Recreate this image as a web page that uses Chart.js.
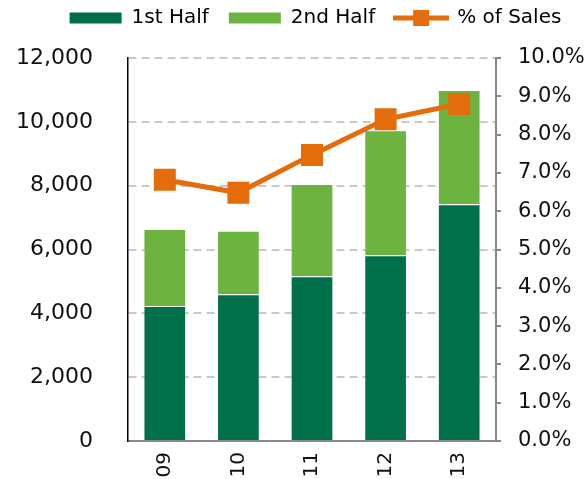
<!DOCTYPE html>
<html>
<head>
<meta charset="utf-8">
<script src="https://cdn.jsdelivr.net/npm/chart.js@4.4.1/dist/chart.umd.min.js"></script>
<style>
  body { margin: 0; background: #fff; }
  #wrap { width: 587px; height: 479px; }
</style>
</head>
<body>
<div id="wrap"><canvas id="salesChart"></canvas></div>
<script>
const years = ['09', '10', '11', '12', '13'];
const firstHalf = [4230, 4600, 5165, 5820, 7415];
const secondHalf = [2415, 1990, 2885, 3920, 3585];
const pctOfSales = [6.82, 6.48, 7.47, 8.40, 8.80];

const darkGreen = '#00704A';
const lightGreen = '#6DB33F';
const orange = '#E46C0A';
const font = 'DejaVu Sans';

// legend icon for the line series: a line with a square on it
const lineIcon = document.createElement('canvas');
lineIcon.width = 56;
lineIcon.height = 18;
(function () {
    const c = lineIcon.getContext('2d');
    c.strokeStyle = orange;
    c.lineWidth = 5;
    c.beginPath();
    c.moveTo(0, 9);
    c.lineTo(56, 9);
    c.stroke();
    c.fillStyle = orange;
    c.fillRect(20, 1, 16, 16);
})();

// nudge the legend to where it sits in the original
const legendShift = {
    id: 'legendShift',
    afterLayout: function (chart) {
        const lg = chart.legend;
        if (!lg) return;
        lg.left += 22;
        lg.right += 22;
        lg.top -= 20;
        lg.bottom -= 20;
    }
};

const ctx = document.getElementById('salesChart').getContext('2d');
const salesChart = new Chart(ctx, {
    type: 'bar',
    data: {
        labels: years,
        datasets: [{
            label: '1st Half',
            data: firstHalf,
            backgroundColor: darkGreen,
            borderColor: 'rgba(255,255,255,0.35)',
            borderWidth: 1,
            yAxisID: 'y',
            order: 2
        }, {
            label: '2nd Half',
            data: secondHalf,
            backgroundColor: lightGreen,
            borderColor: 'rgba(255,255,255,0.35)',
            borderWidth: 1,
            yAxisID: 'y',
            order: 2
        }, {
            type: 'line',
            label: '% of Sales',
            data: pctOfSales,
            borderColor: orange,
            backgroundColor: orange,
            borderWidth: 5,
            pointStyle: 'rect',
            pointRadius: 12,
            pointHoverRadius: 12,
            yAxisID: 'y1',
            order: 1
        }]
    },
    plugins: [legendShift],
    options: {
        responsive: true,
        maintainAspectRatio: false,
        animation: false,
        layout: { padding: { top: 8 } },
        datasets: {
            bar: { barPercentage: 0.58, categoryPercentage: 1 }
        },
        scales: {
            x: {
                stacked: true,
                grid: { display: false, drawTicks: false },
                border: { color: '#888', width: 2 },
                ticks: {
                    color: '#111',
                    font: { family: font, size: 20 },
                    minRotation: 90,
                    maxRotation: 90,
                    padding: 11
                },
                afterFit: function (scale) { scale.height = 38; }
            },
            y: {
                stacked: true,
                position: 'left',
                min: 0,
                max: 12000,
                grid: {
                    color: '#c8c8c8',
                    lineWidth: 2,
                    tickLength: 30,
                    tickColor: 'rgba(0,0,0,0)'
                },
                border: { color: '#000', width: 1.5, dash: [8, 5] },
                ticks: {
                    stepSize: 2000,
                    color: '#111',
                    padding: 5,
                    font: { family: font, size: 22 },
                    callback: function (v) { return v.toLocaleString('en-US'); }
                },
                afterFit: function (scale) { scale.width = 128; }
            },
            y1: {
                position: 'right',
                min: 0,
                max: 10,
                grid: {
                    drawOnChartArea: false,
                    tickLength: 5,
                    tickColor: '#888',
                    lineWidth: 2
                },
                border: { color: '#888', width: 2 },
                ticks: {
                    stepSize: 1,
                    color: '#111',
                    padding: 17,
                    font: { family: font, size: 21 },
                    callback: function (v) { return v.toFixed(1) + '%'; }
                },
                afterFit: function (scale) { scale.width = 91; }
            }
        },
        plugins: {
            legend: {
                position: 'top',
                labels: {
                    usePointStyle: true,
                    pointStyleWidth: 52,
                    boxHeight: 11,
                    padding: 20,
                    color: '#111',
                    font: { family: font, size: 20 },
                    generateLabels: function (chart) {
                        return chart.data.datasets.map(function (ds, i) {
                            return {
                                text: ds.label,
                                fillStyle: ds.backgroundColor,
                                strokeStyle: ds.backgroundColor,
                                lineWidth: 0,
                                pointStyle: ds.type === 'line' ? lineIcon : 'rect',
                                hidden: !chart.isDatasetVisible(i),
                                datasetIndex: i
                            };
                        });
                    }
                }
            },
            tooltip: { enabled: false }
        }
    }
});
</script>
</body>
</html>
